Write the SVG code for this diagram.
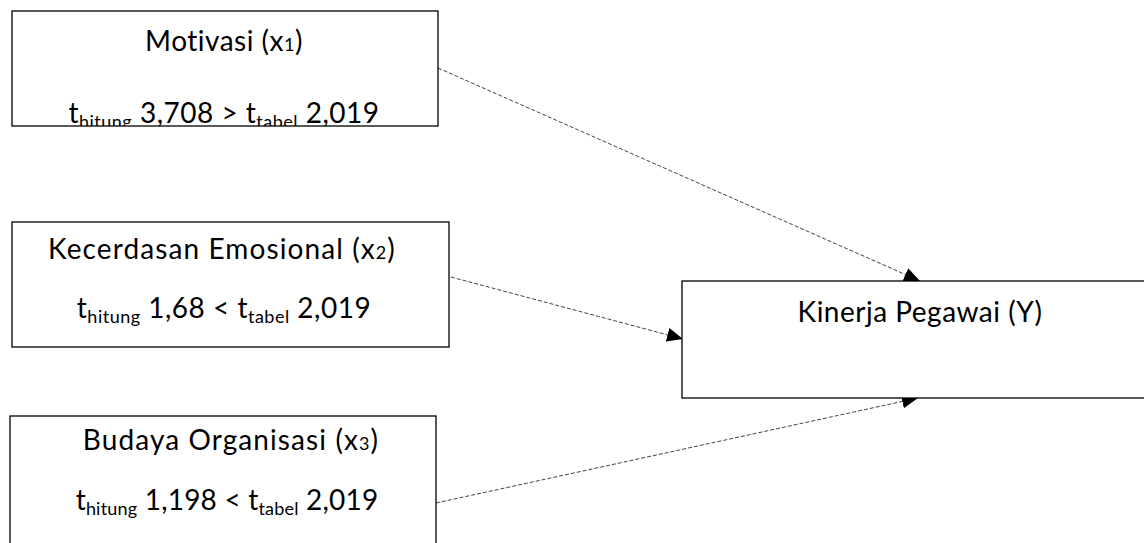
<svg xmlns="http://www.w3.org/2000/svg" width="1144" height="543" viewBox="0 0 1144 543">
<style>
.box{fill:#fff;stroke:#000;stroke-width:1.3}
.t{font-family:Lato,"Liberation Sans",sans-serif;font-size:28px;letter-spacing:0.5px;fill:#000;text-anchor:middle}
.w{letter-spacing:1.1px}
.s{font-size:18px}
.c{fill:none;stroke:#444;stroke-width:1;stroke-dasharray:4 2}
</style>
<defs>
<marker id="ah" viewBox="0 0 16 14" refX="16" refY="7" markerWidth="16" markerHeight="14" orient="auto" markerUnits="userSpaceOnUse">
<path d="M0,0 L16,7 L0,14 Z" fill="#000"/>
</marker>
<clipPath id="clip1"><rect x="12" y="11" width="426" height="115"/></clipPath>
</defs>
<g id="connectors">
<line class="c" x1="438" y1="68" x2="920" y2="281" marker-end="url(#ah)"/>
<line class="c" x1="451" y1="277" x2="683" y2="339" marker-end="url(#ah)"/>
<line class="c" x1="436" y1="503" x2="918" y2="398" marker-end="url(#ah)"/>
</g>
<g id="motivasi">
<rect class="box" x="12" y="11" width="426" height="115"/>
<g clip-path="url(#clip1)">
<text class="t" x="224" y="51">Motivasi (x<tspan class="s">1</tspan>)</text>
<text class="t" x="224" y="123">t<tspan class="s" dy="5">hitung</tspan><tspan dy="-5"> 3,708 &gt; t</tspan><tspan class="s" dy="5">tabel</tspan><tspan dy="-5"> 2,019</tspan></text>
</g>
</g>
<g id="kecerdasan">
<rect class="box" x="12" y="222" width="437" height="125"/>
<text class="t w" x="222" y="259">Kecerdasan Emosional (x<tspan class="s">2</tspan>)</text>
<text class="t" x="224" y="318">t<tspan class="s" dy="5">hitung</tspan><tspan dy="-5"> 1,68 &lt; t</tspan><tspan class="s" dy="5">tabel</tspan><tspan dy="-5"> 2,019</tspan></text>
</g>
<g id="budaya">
<rect class="box" x="10" y="416" width="426" height="140"/>
<text class="t w" x="231" y="450">Budaya Organisasi (x<tspan class="s">3</tspan>)</text>
<text class="t" x="227" y="510" style="letter-spacing:0.2px">t<tspan class="s" dy="5">hitung</tspan><tspan dy="-5"> 1,198 &lt; t</tspan><tspan class="s" dy="5">tabel</tspan><tspan dy="-5"> 2,019</tspan></text>
</g>
<g id="kinerja">
<rect class="box" x="682" y="281" width="480" height="117"/>
<text class="t" x="920" y="322">Kinerja Pegawai (Y)</text>
</g>
</svg>
